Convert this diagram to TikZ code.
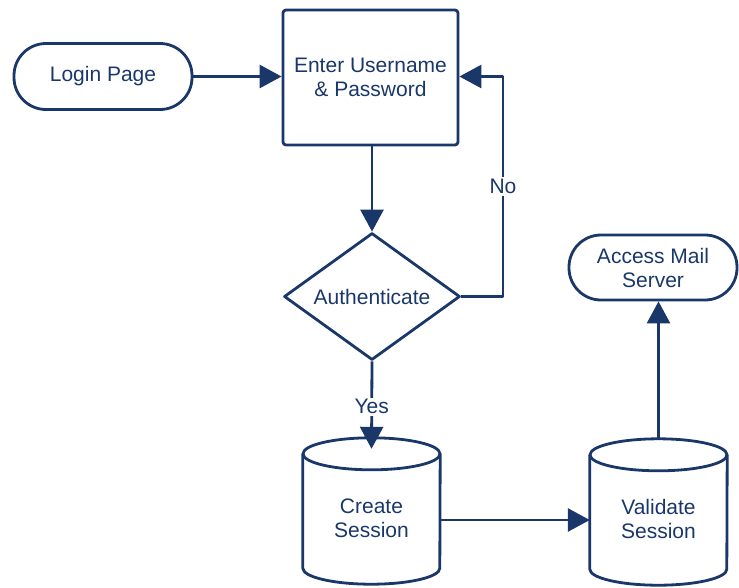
\documentclass[tikz,border=0pt]{standalone}
\usepackage{fontspec}
\setmainfont{Liberation Sans}
\usetikzlibrary{shapes.geometric,arrows.meta}
\definecolor{navy}{HTML}{1A3769}
\begin{document}
\begin{tikzpicture}[x=1pt,y=-1pt,
  ln/.style={draw=navy, line width=2.8pt, line join=round},
  arr/.style={ln, -{Triangle[length=22pt,width=23pt]}},
  txt/.style={font=\fontsize{21}{24}\selectfont, text=navy, align=center},
  stadium/.style={ln, txt, rounded corners=32pt, minimum height=66pt, inner sep=0pt},
  procbox/.style={ln, txt, rounded corners=3pt, minimum width=175pt, minimum height=135pt, inner sep=0pt},
  decision/.style={ln, txt, diamond, aspect=1.386, minimum width=176pt, minimum height=127pt, inner sep=0pt},
  cylframe/.style={minimum width=137pt, minimum height=148pt, inner sep=0pt},
  lbl/.style={txt, fill=white, inner sep=2pt}
]
\useasboundingbox (0,0) rectangle (739,587);
\newcommand\drawcyl[1]{%
  \draw[ln] ([yshift=-17pt]#1.north) ellipse [x radius=68.5pt, y radius=16pt];
  \draw[ln] ([yshift=-17pt]#1.north west) -- ([yshift=17pt]#1.south west)
     arc[start angle=180, end angle=360, x radius=68.5pt, y radius=16pt]
     -- ([yshift=-17pt]#1.north east);
}
\node[stadium, minimum width=178pt] (login) at (103,76.5) {Login Page};
\node[procbox] (enter) at (370.5,77.5) {Enter Username\\\& Password};
\node[decision] (auth) at (372,296.5) {Authenticate};
\node[cylframe, label={[txt, yshift=-7pt]center:Create\\Session}] (cs) at (371.5,511) {};
\node[cylframe, label={[txt, yshift=-7pt]center:Validate\\Session}] (vs) at (658.5,512) {};
\node[stadium, minimum width=168pt, minimum height=65pt] (access) at (653,267.5) {Access Mail\\Server};
\drawcyl{cs}
\drawcyl{vs}
\coordinate (nocorner1) at (503,296.5);
\coordinate (nocorner2) at (503,76.5);
\draw[arr] (login.east) -- (login.east -| enter.west);
\draw[arr] (enter.south -| auth.north) -- (auth.north);
\draw[arr] (auth.east) -- (nocorner1) -- node[lbl, pos=0.5] {No} (nocorner2) -- (enter.east |- nocorner2);
\draw[arr] (auth.south) -- node[lbl, pos=0.52] {Yes} ([yshift=-12pt]cs.north);
\draw[arr] (cs.east |- 0,520) -- (vs.west |- 0,520);
\draw[arr] (vs.north) -- (vs.north |- access.south);
\end{tikzpicture}
\end{document}
